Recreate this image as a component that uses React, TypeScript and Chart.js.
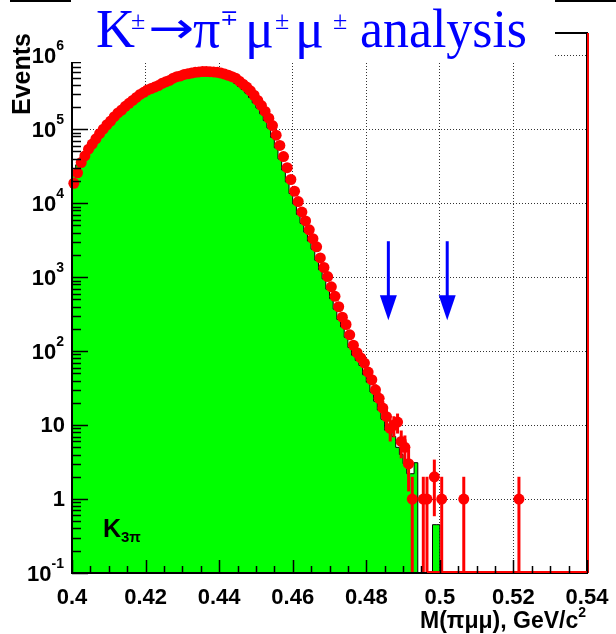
import React, { useEffect, useRef } from 'react';
import { Chart, registerables } from 'chart.js';

Chart.register(...registerables);

// ---- axis ranges ----
const X_MIN = 0.4;
const X_MAX = 0.54;
const Y_MIN = 0.1;
const Y_MAX = 2e6;

// ---- binning (1 MeV bins) ----
const FIRST_BIN_CENTER = 0.4005;
const BIN_WIDTH = 0.001;

// ---- measured data (events per bin), bins from 0.4005 GeV ----
const dataCounts = [
  18600, 25700, 35500, 43600, 53700, 63100, 74100, 87100, 100000, 115000,
  129000, 148000, 166000, 182000, 204000, 224000, 245000, 269000, 295000, 316000,
  339000, 355000, 372000, 389000, 417000, 437000, 457000, 490000, 513000, 525000,
  550000, 562000, 575000, 589000, 596000, 603000, 603000, 600000, 596000, 589000,
  575000, 556000, 537000, 513000, 490000, 447000, 407000, 372000, 331000, 288000,
  245000, 209000, 174000, 141000, 112000, 83200, 60300, 42700, 30200, 20900,
  14500, 10500, 7590, 5750, 4370, 3310, 2570, 1820, 1350, 1020,
  741, 550, 398, 288, 229, 166, 120, 95, 81, 69,
  52, 41, 30, 23, 17, 13, 9, 10, 11, 6,
  5, 3, 1, 0, 0, 1, 1, 0, 2, 0,
  1, 0, 0, 0, 0, 0, 1, 0, 0, 0,
  0, 0, 0, 0, 0, 0, 0, 0, 0, 0,
  0, 1,
];

// ---- K3pi Monte Carlo (green histogram), bins from 0.4005 GeV ----
const mcCounts = [
  17300, 23900, 33000, 40500, 49900, 58700, 68900, 81000, 93000, 107000,
  120000, 138000, 154000, 169000, 190000, 208000, 228000, 250000, 274000, 294000,
  315000, 330000, 346000, 362000, 388000, 406000, 425000, 456000, 477000, 488000,
  512000, 523000, 535000, 548000, 554000, 561000, 561000, 558000, 554000, 548000,
  535000, 517000, 499000, 477000, 456000, 416000, 379000, 346000, 308000, 268000,
  228000, 194000, 162000, 131000, 104000, 77400, 56100, 39700, 28100, 19400,
  13500, 9770, 7060, 5350, 4060, 3080, 2390, 1690, 1260, 949,
  689, 512, 370, 268, 213, 154, 112, 88, 75, 64,
  48, 38, 28, 21, 16, 12, 8.5, 8, 7, 5,
  4, 3, 2.2, 2.2, 3.1, 0, 0, 0, 0, 0.45,
];

// ---- axis ticks / labels ----
const xLabelValues = [0.4, 0.42, 0.44, 0.46, 0.48, 0.5, 0.52, 0.54];
const xLabelTexts = ['0.4', '0.42', '0.44', '0.46', '0.48', '0.5', '0.52', '0.54'];
const xGridValues = [0.42, 0.44, 0.46, 0.48, 0.5, 0.52];
const xMinorStep = 0.005;
const yDecades = [0.1, 1, 10, 100, 1000, 10000, 100000, 1000000];
const yLabelBase = ['10', '1', '10', '10', '10', '10', '10', '10'];
const yLabelExp = ['-1', '', '', '2', '3', '4', '5', '6'];

// ---- signal-region arrows ----
const arrowX = [0.486, 0.502];
const arrowTopValue = 3060;
const arrowHeadValue = 571;
const arrowTipValue = 262;

const TITLE_FONT = '"Liberation Serif", "Times New Roman", serif';
const SANS = '"Liberation Sans", Arial, Helvetica, sans-serif';

export default function App() {
  const canvasRef = useRef<HTMLCanvasElement | null>(null);

  useEffect(() => {
    const canvas = canvasRef.current;
    if (!canvas) return;

    const centers = dataCounts.map((_, i) => +(FIRST_BIN_CENTER + i * BIN_WIDTH).toFixed(4));
    const dataPts = dataCounts
      .map((c, i) => ({ x: centers[i], y: c }))
      .filter((p) => p.y > 0);

    const mcPts: { x: number; y: number }[] = mcCounts.map((c, i) => ({
      x: +(FIRST_BIN_CENTER + i * BIN_WIDTH - BIN_WIDTH / 2).toFixed(4),
      y: c > 0 ? c : Y_MIN,
    }));
    const lastEdge = +(FIRST_BIN_CENTER + (mcCounts.length - 1) * BIN_WIDTH + BIN_WIDTH / 2).toFixed(4);
    mcPts.push({ x: lastEdge, y: mcCounts[mcCounts.length - 1] || Y_MIN });
    mcPts.push({ x: lastEdge, y: Y_MIN });

    const decor = {
      id: 'decor',
      afterDatasetsDraw(chart: any) {
        const ctx = chart.ctx as CanvasRenderingContext2D;
        const xs = chart.scales.x;
        const ys = chart.scales.y;
        const a = chart.chartArea;

        // error bars
        ctx.save();
        ctx.beginPath();
        ctx.rect(a.left, a.top, a.right - a.left, a.bottom - a.top);
        ctx.clip();
        ctx.strokeStyle = '#ff0000';
        ctx.lineWidth = 3;
        dataPts.forEach((p) => {
          const e = Math.sqrt(p.y);
          const px = xs.getPixelForValue(p.x);
          const yTop = ys.getPixelForValue(p.y + e);
          const lo = p.y - e;
          const yBot = lo > 0 ? ys.getPixelForValue(lo) : a.bottom;
          ctx.beginPath();
          ctx.moveTo(px, yTop);
          ctx.lineTo(px, yBot);
          ctx.stroke();
        });
        ctx.restore();

        // frame
        ctx.save();
        ctx.strokeStyle = '#000';
        ctx.lineWidth = 2;
        ctx.strokeRect(a.left, a.top, a.right - a.left, a.bottom - a.top);
        // red data-histogram outline along bottom / right edge
        ctx.strokeStyle = '#ff0000';
        ctx.lineWidth = 2;
        ctx.beginPath();
        ctx.moveTo(xs.getPixelForValue(0.4965), a.bottom - 1);
        ctx.lineTo(a.right + 1, a.bottom - 1);
        ctx.moveTo(a.right + 1, a.bottom);
        ctx.lineTo(a.right + 1, a.top);
        ctx.stroke();

        // ticks (inside)
        ctx.strokeStyle = '#000';
        ctx.lineWidth = 1.5;
        ctx.beginPath();
        const nX = Math.round((X_MAX - X_MIN) / xMinorStep);
        for (let i = 0; i <= nX; i++) {
          const v = X_MIN + i * xMinorStep;
          const px = Math.round(xs.getPixelForValue(v)) + 0.5;
          const major = i % 4 === 0;
          ctx.moveTo(px, a.bottom);
          ctx.lineTo(px, a.bottom - (major ? 13 : 7));
        }
        yDecades.forEach((d) => {
          for (let m = 1; m <= 9; m++) {
            const v = d * m;
            if (v < Y_MIN || v > Y_MAX) continue;
            const py = Math.round(ys.getPixelForValue(v)) + 0.5;
            ctx.moveTo(a.left, py);
            ctx.lineTo(a.left + (m === 1 ? 16 : 9), py);
          }
        });
        ctx.stroke();

        // arrows
        ctx.strokeStyle = '#0000ff';
        ctx.fillStyle = '#0000ff';
        ctx.lineWidth = 3;
        arrowX.forEach((xv) => {
          const px = xs.getPixelForValue(xv);
          const yT = ys.getPixelForValue(arrowTopValue);
          const yH = ys.getPixelForValue(arrowHeadValue);
          const yP = ys.getPixelForValue(arrowTipValue);
          ctx.beginPath();
          ctx.moveTo(px, yT);
          ctx.lineTo(px, yH + 2);
          ctx.stroke();
          ctx.beginPath();
          ctx.moveTo(px - 8.5, yH);
          ctx.lineTo(px + 8.5, yH);
          ctx.lineTo(px, yP);
          ctx.closePath();
          ctx.fill();
        });

        // K3pi label
        ctx.fillStyle = '#000';
        ctx.textBaseline = 'alphabetic';
        ctx.textAlign = 'left';
        ctx.font = `bold 25px ${SANS}`;
        ctx.fillText('K', a.left + 31, 537);
        ctx.font = `bold 15px ${SANS}`;
        ctx.fillText('3π', a.left + 49, 542);
        ctx.restore();
      },
      afterDraw(chart: any) {
        const ctx = chart.ctx as CanvasRenderingContext2D;
        const xs = chart.scales.x;
        const ys = chart.scales.y;
        const a = chart.chartArea;
        ctx.save();

        // white title box covering the frame top
        ctx.fillStyle = '#fff';
        ctx.fillRect(71, 0, 484, 62);
        // outer top frame pieces
        ctx.fillStyle = '#000';
        ctx.fillRect(10, 0, 61, 2);
        ctx.fillRect(555, 0, 61, 2);

        // title
        ctx.fillStyle = '#0000ff';
        ctx.textBaseline = 'alphabetic';
        ctx.textAlign = 'left';
        const big = `54px ${TITLE_FONT}`;
        const sup = `26px ${TITLE_FONT}`;
        const base = 47;
        ctx.font = big;
        ctx.fillText('K', 96, base);
        ctx.font = sup;
        ctx.fillText('±', 131, 29);
        // long arrow
        ctx.font = `44px "DejaVu Sans", sans-serif`;
        const aw = ctx.measureText('→').width;
        ctx.save();
        ctx.translate(148, 43);
        ctx.scale(46 / aw, 1);
        ctx.fillText('→', 0, 0);
        ctx.restore();
        ctx.font = big;
        ctx.fillText('π', 193, base);
        ctx.font = `22px ${TITLE_FONT}`;
        ctx.fillText('∓', 220, 25);
        ctx.font = big;
        ctx.fillText('μ', 245, base);
        ctx.font = sup;
        ctx.fillText('±', 275, 29);
        ctx.font = big;
        ctx.fillText('μ', 295, base);
        ctx.font = sup;
        ctx.fillText('±', 333, 29);
        ctx.font = big;
        const w = ctx.measureText('analysis').width;
        ctx.save();
        ctx.translate(360, base);
        ctx.scale(167 / w, 1);
        ctx.fillText('analysis', 0, 0);
        ctx.restore();

        // y tick labels
        ctx.fillStyle = '#000';
        ctx.textBaseline = 'middle';
        yDecades.forEach((d, i) => {
          const py = ys.getPixelForValue(d);
          const exp = yLabelExp[i];
          if (exp) {
            ctx.font = `bold 14px ${SANS}`;
            ctx.textAlign = 'right';
            ctx.fillText(exp, a.left - 8, py - 9);
            const ew = ctx.measureText(exp).width;
            ctx.font = `bold 22px ${SANS}`;
            ctx.fillText(yLabelBase[i], a.left - 8 - ew, py + 2);
          } else {
            ctx.font = `bold 22px ${SANS}`;
            ctx.textAlign = 'right';
            ctx.fillText(yLabelBase[i], a.left - 7, py + 1);
          }
        });

        // x tick labels
        ctx.font = `bold 22px ${SANS}`;
        ctx.textAlign = 'center';
        xLabelValues.forEach((v, i) => {
          ctx.fillText(xLabelTexts[i], xs.getPixelForValue(v), a.bottom + 25);
        });

        // x axis title
        ctx.textAlign = 'right';
        ctx.textBaseline = 'alphabetic';
        ctx.font = `bold 14px ${SANS}`;
        ctx.fillText('2', a.right - 1, 617);
        const w2 = ctx.measureText('2').width;
        ctx.font = `bold 23px ${SANS}`;
        ctx.fillText('M(πμμ), GeV/c', a.right - 1 - w2, 628);

        // y axis title
        ctx.save();
        ctx.translate(30, a.top);
        ctx.rotate(-Math.PI / 2);
        ctx.textAlign = 'right';
        ctx.textBaseline = 'alphabetic';
        ctx.font = `bold 25px ${SANS}`;
        ctx.fillText('Events', 0, 0);
        ctx.restore();

        ctx.restore();
      },
    };

    const chart = new Chart(canvas, {
      type: 'line',
      data: {
        datasets: [
          {
            label: 'K3pi MC',
            data: mcPts,
            stepped: 'after',
            fill: 'start',
            backgroundColor: '#00ff00',
            borderColor: '#000000',
            borderWidth: 1,
            pointRadius: 0,
            order: 2,
          } as any,
          {
            label: 'Data',
            data: dataPts,
            showLine: false,
            pointRadius: 5.5,
            pointHoverRadius: 5.5,
            pointBackgroundColor: '#ff0000',
            pointBorderWidth: 0,
            borderColor: '#ff0000',
            order: 1,
            clip: { left: 7, top: 0, right: 0, bottom: 0 },
          } as any,
        ],
      },
      options: {
        animation: false,
        responsive: false,
        maintainAspectRatio: false,
        events: [],
        layout: { padding: { left: 72, top: 33, right: 29, bottom: 61 } },
        plugins: {
          legend: { display: false },
          tooltip: { enabled: false },
          title: { display: false },
        },
        scales: {
          x: {
            type: 'linear',
            min: X_MIN,
            max: X_MAX,
            afterBuildTicks: (s: any) => {
              s.ticks = xGridValues.map((v) => ({ value: v }));
            },
            ticks: { display: false },
            grid: { drawTicks: false, color: '#333', lineWidth: 1 },
            border: { display: false, dash: [1, 2] },
          },
          y: {
            type: 'logarithmic',
            min: Y_MIN,
            max: Y_MAX,
            afterBuildTicks: (s: any) => {
              s.ticks = yDecades.slice(1).map((v) => ({ value: v }));
            },
            ticks: { display: false },
            grid: { drawTicks: false, color: '#333', lineWidth: 1 },
            border: { display: false, dash: [1, 2] },
          },
        },
      },
      plugins: [decor],
    } as any);

    return () => chart.destroy();
  }, []);

  return (
    <div style={{ position: 'absolute', left: 0, top: 0, width: 616, height: 634 }}>
      <canvas ref={canvasRef} width={616} height={634} style={{ display: 'block' }} />
    </div>
  );
}
